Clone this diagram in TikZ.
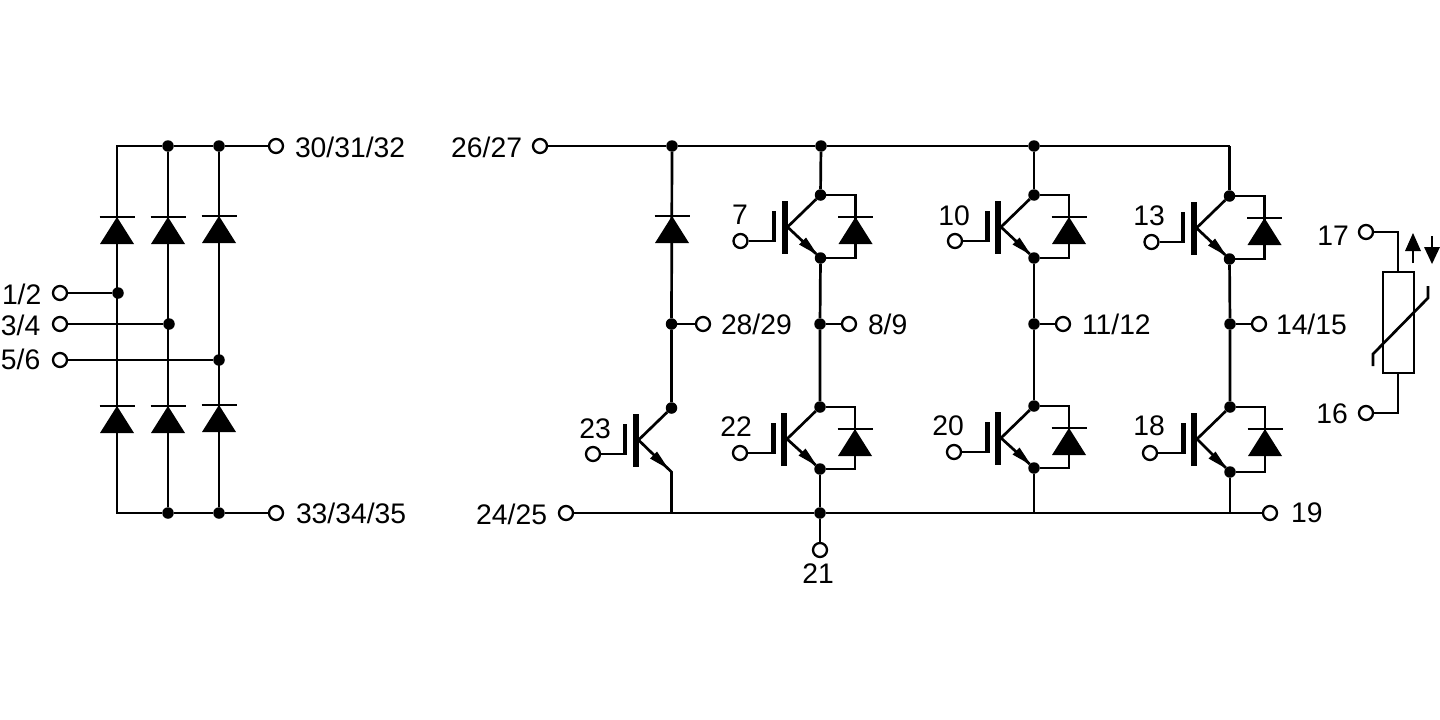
\documentclass[tikz,border=0pt]{standalone}
\usepackage{fontspec}
\setmainfont{Liberation Sans}
\tikzset{
  wire/.style={line width=2.7pt,line join=miter,black},
  term/.style={circle,draw=black,line width=2.3pt,fill=white,minimum size=14pt,inner sep=0pt},
  joint/.style={circle,fill=black,minimum size=11.5pt,inner sep=0pt},
  lbl/.style={inner sep=0pt,outer sep=0pt,text height=20pt,text depth=0pt,font=\fontsize{28.3}{30}\selectfont,black}
}
% name, x, y of collector, height, gate terminal x offset
\newcommand{\igbtcore}[5]{
  \node[joint] (#1c) at (#2,#3) {};
  \node[term] (#1g) at (#2+#5,#3+46) {};
  \begin{scope}[shift={(#2,#3)}]
    \fill[black] (-39,6) rectangle (-33,59);
    \fill[black] (-49,16) rectangle (-44.5,47);
    \coordinate (#1gb) at (-46,46);
    \coordinate (#1b) at (-33,32);
    \coordinate (#1t) at (-3,#4-3);
    \fill[black] (#1t) -- (-14.5,#4-20.5) -- (-21.5,#4-13.5) -- cycle;
  \end{scope}
  \draw[wire] (#1g) -- (#1gb);
  \draw[wire] (#1b) -- (#1c);
}
\newcommand{\fwd}[2]{
  \fill[black] (#1,#2) -- (#1+17,#2+27) -- (#1-17,#2+27) -- cycle;
  \draw[line width=2.3pt] (#1-17.5,#2) -- (#1+17.5,#2);
}
% name, x, y, height, gate offset
\newcommand{\igbtd}[5]{
  \igbtcore{#1}{#2}{#3}{#4}{#5}
  \node[joint] (#1e) at (#2,#3+#4) {};
  \draw[wire] (#1b) -- (#1e);
  \coordinate (#1p) at (#2+35,#3);
  \coordinate (#1q) at (#2+35,#3+#4);
  \draw[wire] (#1c) -- (#1p) -- (#1q) -- (#1e);
  \fwd{#2+35}{#3+22}
}
\begin{document}
\begin{tikzpicture}[x=1pt,y=-1pt]
\useasboundingbox (0,0) rectangle (1440,720);
% ---- rectifier
\node[term] (t30) at (276,146) {};
\node[term] (t33) at (276,513) {};
\node[term] (t1) at (60,293) {};
\node[term] (t3) at (60,324) {};
\node[term] (t5) at (60,360) {};
\coordinate (ra) at (117,146);
\coordinate (rb) at (117,513);
\node[joint] (rt2) at (168,146) {};
\node[joint] (rt3) at (219,146) {};
\node[joint] (rb2) at (168,513) {};
\node[joint] (rb3) at (219,513) {};
\node[joint] (j1) at (118,293) {};
\node[joint] (j3) at (169,324) {};
\node[joint] (j5) at (219,360) {};
\draw[wire] (t30) -- (rt3) -- (rt2) -- (ra) -- (rb) -- (rb2) -- (rb3) -- (t33);
\draw[wire] (rt2) -- (rb2);
\draw[wire] (rt3) -- (rb3);
\draw[wire] (t1) -- (j1);
\draw[wire] (t3) -- (j3);
\draw[wire] (t5) -- (j5);
\fwd{117}{217}\fwd{168}{217}\fwd{219}{216}
\fwd{117}{406}\fwd{168}{406}\fwd{219}{405}
\node[lbl,anchor=west] (l1) at (2,294) {1/2};
\node[lbl,anchor=west] (l3) at (1,325) {3/4};
\node[lbl,anchor=west] (l5) at (1,359) {5/6};
\node[lbl,anchor=west] (l30) at (295,147) {30/31/32};
\node[lbl,anchor=west] (l33) at (296,513) {33/34/35};
% ---- buses
\node[term] (t26) at (540,146) {};
\node[term] (t24) at (566,513) {};
\node[term] (t19) at (1270,513) {};
\node[term] (t21) at (820,550) {};
\node[joint] (b1) at (672,146) {};
\node[joint] (b2) at (821,146) {};
\node[joint] (b3) at (1034,146) {};
\coordinate (b4) at (1229.5,146);
\node[joint] (u) at (820,513) {};
\coordinate (v1) at (671.5,513);
\coordinate (v3) at (1034,513);
\coordinate (v4) at (1230,513);
\draw[wire] (t26) -- (b1) -- (b2) -- (b3) -- (b4);
\draw[wire] (t24) -- (v1) -- (u) -- (v3) -- (v4) -- (t19);
\draw[wire] (u) -- (t21);
% ---- IGBTs
\igbtd{a}{820.5}{195}{63}{-80}
\igbtd{b}{1034}{195}{63}{-79}
\igbtd{c}{1229.5}{196}{63}{-78}
\igbtd{d}{820}{407}{62}{-80}
\igbtd{e}{1034}{406}{62}{-80}
\igbtd{f}{1230}{407}{65}{-80}
% brake leg
\igbtcore{g}{671.5}{408}{64}{-78.5}
\coordinate (gk) at (671.5,472);
\draw[wire] (gb) -- (gk) -- (v1);
\node[joint] (m0) at (671.5,324) {};
\node[joint] (m1) at (820,324) {};
\node[joint] (m2) at (1034,324) {};
\node[joint] (m3) at (1230,324) {};
\node[term] (n0) at (703,324) {};
\node[term] (n1) at (849,324) {};
\node[term] (n2) at (1063,324) {};
\node[term] (n3) at (1259,324) {};
\draw[wire] (b1) -- (m0) -- (gc);
\fwd{672}{216}
\draw[wire] (b2) -- (ac);
\draw[wire] (b3) -- (bc);
\draw[wire] (b4) -- (cc);
\draw[wire] (ae) -- (m1) -- (dc);
\draw[wire] (be) -- (m2) -- (ec);
\draw[wire] (ce) -- (m3) -- (fc);
\draw[wire] (de) -- (u);
\draw[wire] (ee) -- (v3);
\draw[wire] (fe) -- (v4);
\draw[wire] (m0) -- (n0);
\draw[wire] (m1) -- (n1);
\draw[wire] (m2) -- (n2);
\draw[wire] (m3) -- (n3);
% ---- labels
\node[lbl,anchor=east] (l26) at (522,147) {26/27};
\node[lbl,anchor=east] (l24) at (547,514) {24/25};
\node[lbl,anchor=west] (l19) at (1291,512) {19};
\node[lbl] (l21) at (818,573) {21};
\node[lbl,anchor=west] (l28) at (721,324) {28/29};
\node[lbl,anchor=west] (l8) at (868,324) {8/9};
\node[lbl,anchor=west] (l11) at (1082,324) {11/12};
\node[lbl,anchor=west] (l14) at (1276,324) {14/15};
\node[lbl] (l7) at (740,214) {7};
\node[lbl] (l10) at (954,215) {10};
\node[lbl] (l13) at (1149,215) {13};
\node[lbl] (l23) at (595,428) {23};
\node[lbl] (l22) at (736,426) {22};
\node[lbl] (l20) at (948,425) {20};
\node[lbl] (l18) at (1149,425) {18};
% ---- thermistor
\node[term] (t17) at (1366,232) {};
\node[term] (t16) at (1366,413) {};
\node[lbl] (l17) at (1333,235) {17};
\node[lbl] (l16) at (1332,413) {16};
\node[draw=black,line width=2.5pt,fill=none,minimum width=31pt,minimum height=101pt,inner sep=0pt] (rt) at (1398.5,322.5) {};
\coordinate (k1) at (1398,232);
\coordinate (k2) at (1398,413);
\draw[wire] (t17) -- (k1) -- (rt.north -| k1);
\draw[wire] (t16) -- (k2) -- (rt.south -| k2);
\coordinate (s1) at (1373,366);
\coordinate (s2) at (1373,354);
\coordinate (s3) at (1428,298);
\coordinate (s4) at (1428,286);
\draw[wire] (s1) -- (s2) -- (s3) -- (s4);
\coordinate (up0) at (1413,263);
\coordinate (up1) at (1413,248);
\coordinate (dn0) at (1432,236);
\coordinate (dn1) at (1432,250);
\draw[wire] (up0) -- (up1);
\draw[wire] (dn0) -- (dn1);
\fill[black] (1413,233) -- (1421,251) -- (1405,251) -- cycle;
\fill[black] (1432,264) -- (1424,247) -- (1440,247) -- cycle;
\end{tikzpicture}
\end{document}
